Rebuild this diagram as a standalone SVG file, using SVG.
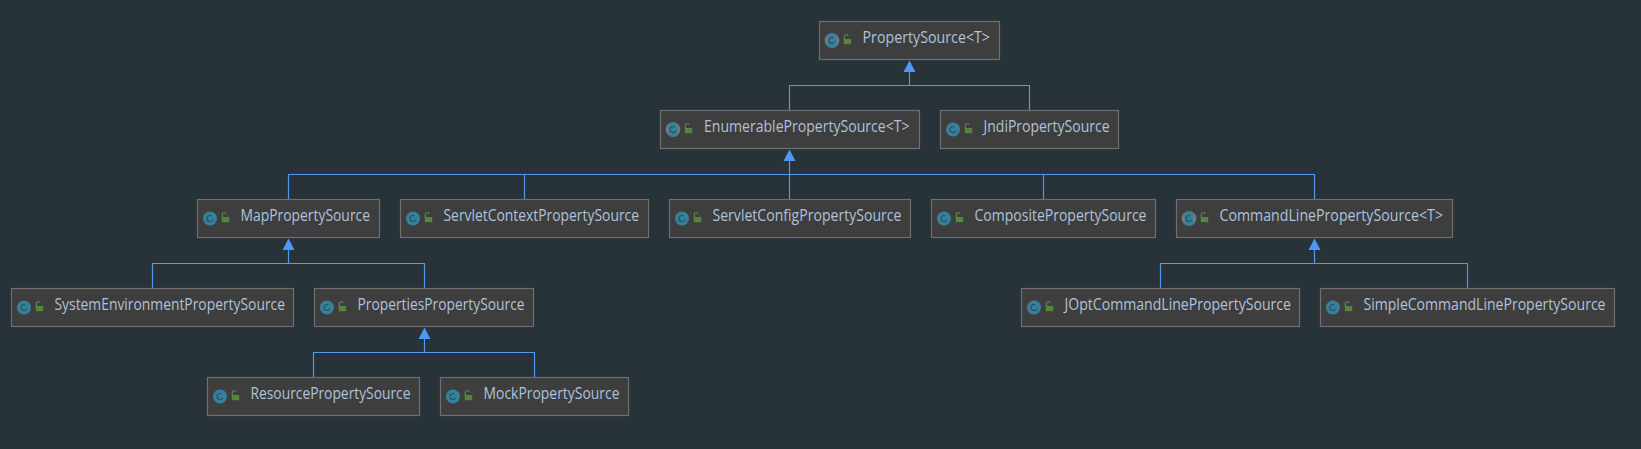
<svg xmlns="http://www.w3.org/2000/svg" width="1641" height="449" viewBox="0 0 1641 449">
<style>
.box{fill:#3e3e3e;stroke:#6f6f6f;stroke-width:1.2}
.lbl{font-family:"Open Sans","Noto Sans","Liberation Sans",sans-serif;font-size:15.4px;fill:#adc2dc}
.edge{fill:none;stroke:#5297f0;stroke-width:1.2}
.head{fill:#4f97f5}
</style>
<defs>
<g id="lock">
<rect x="-3.5" y="0" width="7.4" height="5.2" fill="#54873c"/>
<path d="M-3 0.5V-2.6A2 2 0 0 1 0.9 -2.8" fill="none" stroke="#5f9148" stroke-width="1.1"/>
</g>
<g id="cls">
<circle r="7" fill="#37809c"/>
<circle r="3" fill="none" stroke="#2b4c5d" stroke-width="1.2" stroke-dasharray="14 5" transform="rotate(22)"/>
<use href="#lock" x="15.3" y="-1.5"/>
</g>
<g id="abs">
<circle r="7.3" fill="#777b7e"/>
<rect x="-4.5" y="-7" width="9" height="14" fill="#37809c" rx="2.5"/>
<circle r="3" fill="none" stroke="#2b4c5d" stroke-width="1.2" stroke-dasharray="14 5" transform="rotate(22)"/>
<use href="#lock" x="15.3" y="-1.5"/>
</g>
<polygon id="tri" class="head" points="0,0 6,11.5 -6,11.5"/>
</defs>
<rect width="1641" height="449" fill="#283239"/>
<g id="connectors">
<path class="edge" d="M789.5 110V85.5H1029.5V110M909.5 85.5V70"/>
<path class="edge" d="M288.5 199V174.5H1314.5V199M524.5 174.5V199M789.5 160V199M1043.5 174.5V199"/>
<path class="edge" d="M152.5 288V263.5H424.5V288M288.5 263.5V249"/>
<path class="edge" d="M1160.5 288V263.5H1467.5V288M1314.5 263.5V249"/>
<path class="edge" d="M313.5 377V352.5H534.5V377M424.5 352.5V338"/>
<use href="#tri" x="909.5" y="60.5"/>
<use href="#tri" x="789.5" y="149.5"/>
<use href="#tri" x="288.5" y="238.5"/>
<use href="#tri" x="1314.5" y="238.5"/>
<use href="#tri" x="424.5" y="327.5"/>
</g>
<g id="PropertySource" transform="translate(819.5 21.5)"><rect class="box" width="180" height="38"/><use href="#abs" x="12.5" y="19"/><text class="lbl" x="43" y="21" textLength="127.5" lengthAdjust="spacingAndGlyphs">PropertySource&lt;T&gt;</text></g>
<g id="EnumerablePropertySource" transform="translate(660.5 110.5)"><rect class="box" width="259" height="38"/><use href="#abs" x="12.5" y="19"/><text class="lbl" x="43.5" y="21" textLength="205.5" lengthAdjust="spacingAndGlyphs">EnumerablePropertySource&lt;T&gt;</text></g>
<g id="JndiPropertySource" transform="translate(940.5 110.5)"><rect class="box" width="178" height="38"/><use href="#cls" x="12.5" y="19"/><text class="lbl" x="43" y="21" textLength="126" lengthAdjust="spacingAndGlyphs">JndiPropertySource</text></g>
<g id="MapPropertySource" transform="translate(197.5 199.5)"><rect class="box" width="182" height="38"/><use href="#cls" x="12.5" y="19"/><text class="lbl" x="43" y="21" textLength="129.5" lengthAdjust="spacingAndGlyphs">MapPropertySource</text></g>
<g id="ServletContextPropertySource" transform="translate(400.5 199.5)"><rect class="box" width="248" height="38"/><use href="#cls" x="12.5" y="19"/><text class="lbl" x="43" y="21" textLength="195.5" lengthAdjust="spacingAndGlyphs">ServletContextPropertySource</text></g>
<g id="ServletConfigPropertySource" transform="translate(669.5 199.5)"><rect class="box" width="241" height="38"/><use href="#cls" x="12.5" y="19"/><text class="lbl" x="43" y="21" textLength="189" lengthAdjust="spacingAndGlyphs">ServletConfigPropertySource</text></g>
<g id="CompositePropertySource" transform="translate(931.5 199.5)"><rect class="box" width="224" height="38"/><use href="#cls" x="12.5" y="19"/><text class="lbl" x="43" y="21" textLength="172" lengthAdjust="spacingAndGlyphs">CompositePropertySource</text></g>
<g id="CommandLinePropertySource" transform="translate(1176.5 199.5)"><rect class="box" width="276" height="38"/><use href="#abs" x="12.5" y="19"/><text class="lbl" x="43" y="21" textLength="223.5" lengthAdjust="spacingAndGlyphs">CommandLinePropertySource&lt;T&gt;</text></g>
<g id="SystemEnvironmentPropertySource" transform="translate(11.5 288.5)"><rect class="box" width="282" height="38"/><use href="#cls" x="12.5" y="19"/><text class="lbl" x="43" y="21" textLength="230.5" lengthAdjust="spacingAndGlyphs">SystemEnvironmentPropertySource</text></g>
<g id="PropertiesPropertySource" transform="translate(314.5 288.5)"><rect class="box" width="219" height="38"/><use href="#cls" x="12.5" y="19"/><text class="lbl" x="43" y="21" textLength="167" lengthAdjust="spacingAndGlyphs">PropertiesPropertySource</text></g>
<g id="JOptCommandLinePropertySource" transform="translate(1021.5 288.5)"><rect class="box" width="278" height="38"/><use href="#cls" x="12.5" y="19"/><text class="lbl" x="43" y="21" textLength="226.5" lengthAdjust="spacingAndGlyphs">JOptCommandLinePropertySource</text></g>
<g id="SimpleCommandLinePropertySource" transform="translate(1320.5 288.5)"><rect class="box" width="294" height="38"/><use href="#cls" x="12.5" y="19"/><text class="lbl" x="43" y="21" textLength="242" lengthAdjust="spacingAndGlyphs">SimpleCommandLinePropertySource</text></g>
<g id="ResourcePropertySource" transform="translate(207.5 377.5)"><rect class="box" width="212" height="38"/><use href="#cls" x="12.5" y="19"/><text class="lbl" x="43" y="21" textLength="160" lengthAdjust="spacingAndGlyphs">ResourcePropertySource</text></g>
<g id="MockPropertySource" transform="translate(440.5 377.5)"><rect class="box" width="188" height="38"/><use href="#cls" x="12.5" y="19"/><text class="lbl" x="43" y="21" textLength="136" lengthAdjust="spacingAndGlyphs">MockPropertySource</text></g>
</svg>
